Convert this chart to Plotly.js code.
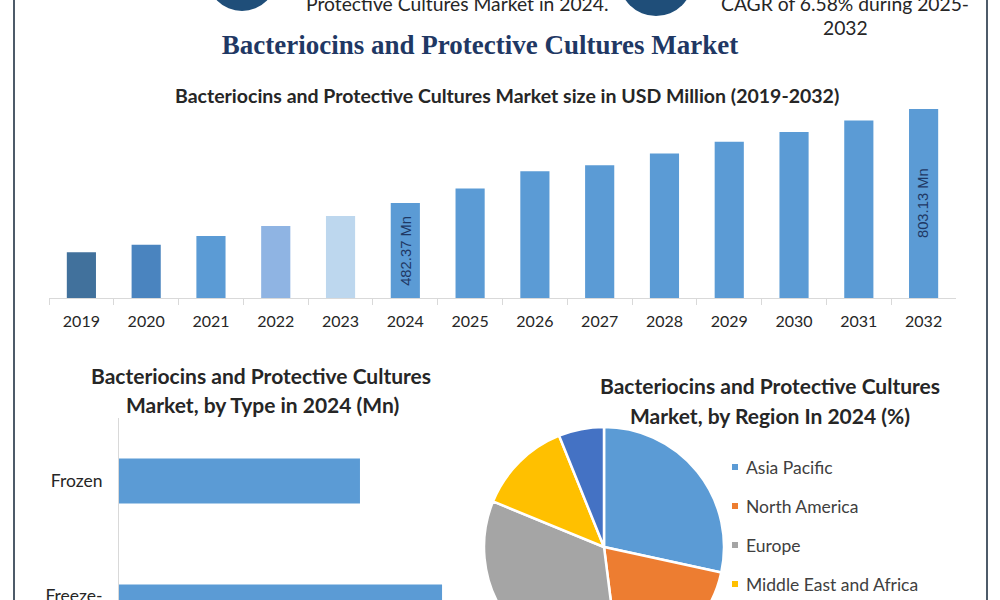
<!DOCTYPE html>
<html>
<head>
<meta charset="utf-8">
<script src="https://cdn.plot.ly/plotly-3.0.1.min.js"></script>
<style>
html,body{margin:0;padding:0;overflow:hidden;background:#fff}
#wrap{width:1000px;height:600px;overflow:hidden;position:relative}
#chart{width:1000px;height:700px}
</style>
</head>
<body>
<div id="wrap"><div id="chart"></div></div>
<script>
// ---- data ----
const years = ['2019','2020','2021','2022','2023','2024','2025','2026','2027','2028','2029','2030','2031','2032'];
const marketSize = [315, 340, 370, 404, 438, 482.37, 532, 591, 611, 651, 691, 725, 764, 803.13];
const yearColors = ['#41719C','#4A84BF','#5B9BD5','#8FB4E3','#BDD7EE','#5B9BD5','#5B9BD5','#5B9BD5','#5B9BD5','#5B9BD5','#5B9BD5','#5B9BD5','#5B9BD5','#5B9BD5'];
const labeledYears = ['2024','2032'];

const types = ['Frozen','Freeze-dried'];
const typeTickLabels = ['Frozen','Freeze-<br>dried'];
const typeValues = [206.1, 276.3];

const regions = ['Asia Pacific','North America','Europe','Middle East and Africa','South America'];
const regionShares = [28.4, 19.6, 33.2, 12.7, 6.1];
const regionColors = ['#5B9BD5','#ED7D31','#A5A5A5','#FFC000','#4472C4'];

const mainTitle = 'Bacteriocins and Protective Cultures Market';
const sizeTitle = 'Bacteriocins and Protective Cultures Market size in USD Million (2019-2032)';
const typeTitle = ['Bacteriocins and Protective Cultures','Market, by Type in 2024 (Mn)'];
const regionTitle = ['Bacteriocins and Protective Cultures','Market, by Region In 2024 (%)'];
const headerLeft = 'Protective Cultures Market in 2024.';
const headerRight = ['CAGR of 6.58% during 2025-','2032'];

// ---- helpers (page pixel -> paper) ----
const W = 1000, H = 700;
const px = x => x / W;
const py = y => 1 - y / H;
const F = 'Lato, "Open Sans", sans-serif';
const DARK = '#262626';
const Y_FLOOR = 158.9, Y_TOP = 833.7;

const traces = [
  {
    type: 'bar', x: years, y: marketSize, xaxis: 'x', yaxis: 'y',
    width: 0.45, marker: {color: yearColors}, hoverinfo: 'skip'
  },
  {
    type: 'bar', orientation: 'h', x: typeValues, y: types, xaxis: 'x2', yaxis: 'y2',
    width: 0.357, marker: {color: '#5B9BD5'}, hoverinfo: 'skip'
  },
  {
    type: 'pie', labels: regions, values: regionShares, sort: false,
    direction: 'clockwise', rotation: 0,
    marker: {colors: regionColors, line: {color: '#FFFFFF', width: 2.5}},
    textinfo: 'none', showlegend: false, hoverinfo: 'skip',
    domain: {x: [px(484), px(724)], y: [py(667), py(427)]}
  }
];

const annotations = [
  {text: '<b>' + sizeTitle + '</b>', x: px(507), y: py(96), font: {family: F, size: 19.5, color: DARK}},
  {text: '<b>' + typeTitle[0] + '</b>', x: px(261), y: py(375), font: {family: F, size: 21, color: DARK}},
  {text: '<b>' + typeTitle[1] + '</b>', x: px(262), y: py(404), font: {family: F, size: 21, color: DARK}},
  {text: '<b>' + regionTitle[0] + '</b>', x: px(770), y: py(386), font: {family: F, size: 21, color: DARK}},
  {text: '<b>' + regionTitle[1] + '</b>', x: px(770), y: py(415), font: {family: F, size: 21, color: DARK}},
  {text: headerLeft, x: px(457), y: py(3), font: {family: F, size: 19.3, color: DARK}},
  {text: headerRight[0], x: px(845), y: py(3), font: {family: F, size: 19.3, color: DARK}},
  {text: headerRight[1], x: px(845), y: py(27), font: {family: F, size: 19.3, color: DARK}}
].map(a => Object.assign({xref: 'paper', yref: 'paper', showarrow: false, xanchor: 'center', yanchor: 'middle'}, a));

// value labels inside the 2024 and 2032 bars (placed in data coordinates, by category index)
years.forEach((yr, i) => {
  if (!labeledYears.includes(yr)) return;
  annotations.push({
    xref: 'x', yref: 'y', x: i, y: (Y_FLOOR + marketSize[i]) / 2,
    text: marketSize[i].toFixed(2) + ' Mn', textangle: -90, showarrow: false,
    xanchor: 'center', yanchor: 'middle',
    font: {family: '"Liberation Sans", Arial, sans-serif', size: 14.8, color: '#1F3864'}
  });
});

const shapes = [
  {type: 'circle', xref: 'paper', yref: 'paper', x0: px(207), x1: px(277), y0: py(11), y1: py(-59), fillcolor: '#1F4E79', line: {width: 0}},
  {type: 'circle', xref: 'paper', yref: 'paper', x0: px(619), x1: px(693), y0: py(16), y1: py(-58), fillcolor: '#1F4E79', line: {width: 0}},
  {type: 'line', xref: 'paper', yref: 'paper', x0: px(14), x1: px(14), y0: -0.1, y1: 1.1, line: {color: '#4D5B69', width: 2}},
  {type: 'line', xref: 'paper', yref: 'paper', x0: px(987), x1: px(987), y0: -0.1, y1: 1.1, line: {color: '#4D5B69', width: 2}}
];

// legend for the pie, built from the regions list
regions.forEach((name, i) => {
  const cy = 467 + 39 * i;
  shapes.push({type: 'rect', xref: 'paper', yref: 'paper', x0: px(732), x1: px(738), y0: py(cy + 3), y1: py(cy - 3), fillcolor: regionColors[i], line: {width: 0}});
  annotations.push({text: name, xref: 'paper', yref: 'paper', x: px(744), y: py(cy), xanchor: 'left', yanchor: 'middle', showarrow: false, font: {family: F, size: 17.5, color: '#404040'}});
});

const layout = {
  width: W, height: H,
  margin: {l: 0, r: 0, t: 0, b: 0},
  paper_bgcolor: '#FFFFFF', plot_bgcolor: 'rgba(0,0,0,0)',
  showlegend: false,
  font: {family: F, color: DARK},
  title: {
    text: '<b>' + mainTitle + '</b>',
    x: px(480), xanchor: 'center', y: py(45), yanchor: 'middle',
    font: {family: '"Liberation Serif", "Times New Roman", serif', size: 27, color: '#1F3864'}
  },
  xaxis: {
    domain: [px(49), px(956)], type: 'category', anchor: 'y', range: [-0.5, years.length - 0.5],
    showline: true, linecolor: '#D9D9D9', linewidth: 1,
    ticks: 'outside', ticklen: 6, tickcolor: '#D9D9D9', tickson: 'boundaries',
    tickfont: {family: F, size: 16, color: DARK}, ticklabelstandoff: 9,
    showgrid: false, zeroline: false, fixedrange: true
  },
  yaxis: {domain: [py(298), py(100)], range: [Y_FLOOR, Y_TOP], visible: false, anchor: 'x', fixedrange: true},
  xaxis2: {domain: [px(119), px(450)], range: [0, 283.1], visible: false, anchor: 'y2', fixedrange: true},
  yaxis2: {
    domain: [py(670), py(418)], type: 'category', anchor: 'x2', range: [1.5, -0.5],
    tickvals: types, ticktext: typeTickLabels,
    showline: true, linecolor: '#D9D9D9', linewidth: 1, ticks: '',
    tickfont: {family: F, size: 17.5, color: DARK}, ticklabelstandoff: 12,
    showgrid: false, zeroline: false, fixedrange: true
  },
  annotations: annotations,
  shapes: shapes,
  hovermode: false
};

Plotly.newPlot('chart', traces, layout, {staticPlot: true, displayModeBar: false});
</script>
</body>
</html>
